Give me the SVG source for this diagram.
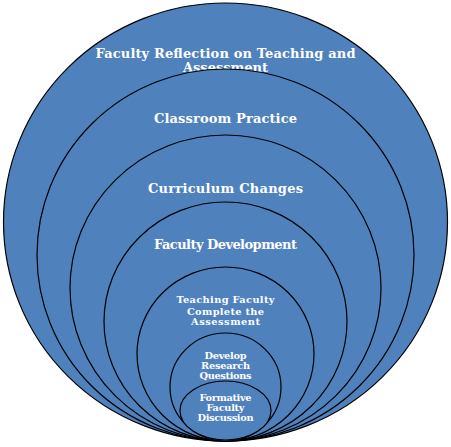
<svg xmlns="http://www.w3.org/2000/svg" width="451" height="447" viewBox="0 0 451 447">
<style>
.c{fill:#4F81BD;stroke:#000;stroke-width:1.2}
.t{fill:#fff;font-family:"DejaVu Serif",serif;font-weight:bold;text-anchor:middle}
.l{font-size:13px}
.s{font-size:9.8px}
</style>
<rect width="451" height="447" fill="#fff"/>
<g id="n1"><ellipse class="c" cx="225.5" cy="222" rx="222" ry="219"/>
<text class="t l" x="225.5" y="57.5" textLength="260" lengthAdjust="spacing">Faculty Reflection on Teaching and</text>
<text class="t l" x="225.5" y="71.5">Assessment</text></g>
<g id="n2"><ellipse class="c" cx="225.5" cy="255" rx="188.5" ry="186"/>
<text class="t l" x="225.5" y="122.5" textLength="143" lengthAdjust="spacing">Classroom Practice</text></g>
<g id="n3"><ellipse class="c" cx="225.5" cy="288" rx="155.5" ry="153"/>
<text class="t l" x="225.5" y="192.5" textLength="155" lengthAdjust="spacing">Curriculum Changes</text></g>
<g id="n4"><ellipse class="c" cx="225.5" cy="321.5" rx="121.5" ry="119.5"/>
<text class="t l" x="225.5" y="249" textLength="143" lengthAdjust="spacing">Faculty Development</text></g>
<g id="n5"><ellipse class="c" cx="225.5" cy="354" rx="88.5" ry="87"/>
<text class="t s" x="225.5" y="303" textLength="98" lengthAdjust="spacing">Teaching Faculty</text>
<text class="t s" x="225.5" y="314.5" textLength="77" lengthAdjust="spacing">Complete the</text>
<text class="t s" x="225.5" y="324.5" textLength="69" lengthAdjust="spacing">Assessment</text></g>
<g id="n6"><ellipse class="c" cx="225.5" cy="387" rx="55.5" ry="54"/>
<text class="t s" x="225.5" y="359" textLength="42" lengthAdjust="spacing">Develop</text>
<text class="t s" x="225.5" y="369" textLength="49" lengthAdjust="spacing">Research</text>
<text class="t s" x="225.5" y="379" textLength="52" lengthAdjust="spacing">Questions</text></g>
<g id="n7"><ellipse class="c" cx="225.5" cy="410.5" rx="45.5" ry="29.5"/>
<text class="t s" x="225.5" y="400.5" textLength="52" lengthAdjust="spacing">Formative</text>
<text class="t s" x="225.5" y="410.5" textLength="38" lengthAdjust="spacing">Faculty</text>
<text class="t s" x="225.5" y="420.5" textLength="56" lengthAdjust="spacing">Discussion</text></g>
<g id="connectors"/>
</svg>
